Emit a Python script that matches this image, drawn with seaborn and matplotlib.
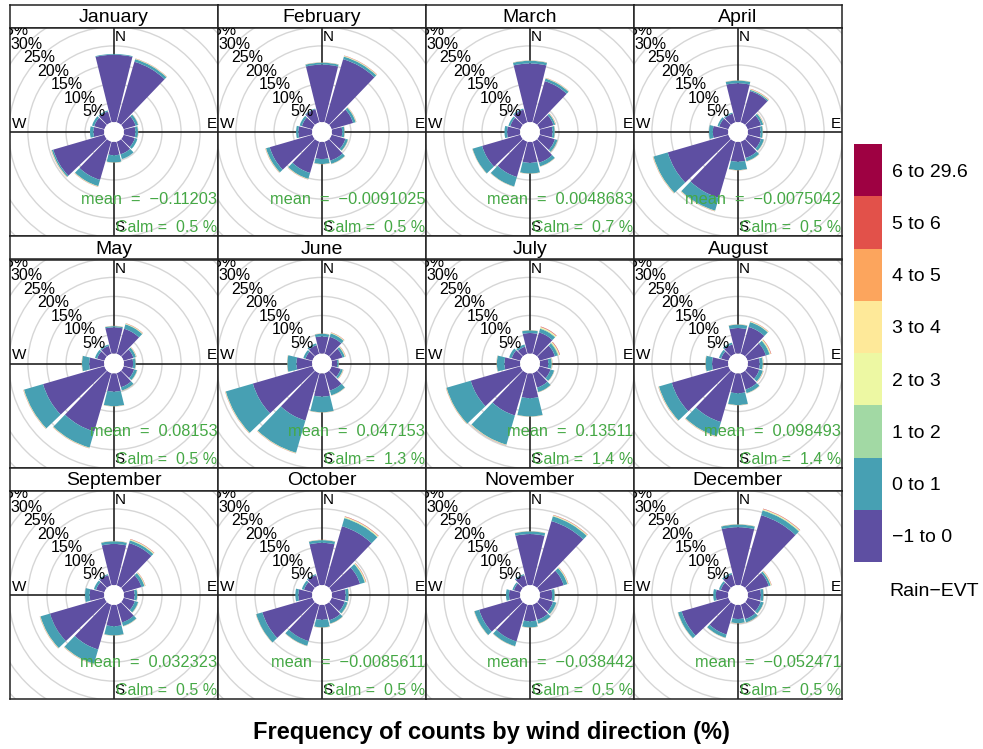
import numpy as np
import matplotlib
matplotlib.use("Agg")
import matplotlib.pyplot as plt
from matplotlib.patches import Wedge, Circle
import seaborn as sns

# wind rose by month, stacked by Rain-EVT bins (values = % of counts)
MONTHS = ["January", "February", "March", "April", "May", "June",
          "July", "August", "September", "October", "November", "December"]
DIRECTIONS = [0, 30, 60, 90, 120, 150, 180, 210, 240, 270, 300, 330]
BINS = ["\u22121 to 0", "0 to 1", "1 to 2", "2 to 3", "3 to 4", "4 to 5", "5 to 6", "6 to 29.6"]

NEG_PCT = [
    [17.7, 16.6, 3.3, 3.0, 3.1, 3.5, 3.5, 10.5, 14.0, 2.8, 2.8, 3.0],
    [15.1, 17.3, 5.9, 2.7, 3.8, 5.2, 4.5, 8.6, 11.7, 3.6, 2.9, 3.6],
    [15.4, 11.3, 3.8, 3.3, 4.2, 5.8, 5.5, 9.7, 10.5, 3.4, 2.8, 3.5],
    [10.2, 8.6, 3.7, 3.3, 3.7, 4.5, 5.2, 15.4, 16.6, 4.0, 2.5, 2.4],
    [6.9, 6.9, 2.7, 2.4, 2.9, 3.9, 4.8, 16.0, 16.8, 3.9, 2.0, 2.2],
    [4.5, 4.7, 3.0, 1.4, 2.5, 4.8, 6.1, 13.0, 16.3, 4.1, 1.9, 2.4],
    [5.4, 5.9, 4.2, 2.2, 3.0, 4.0, 6.5, 11.6, 13.6, 4.1, 2.4, 2.0],
    [6.7, 7.4, 5.0, 3.1, 3.2, 4.5, 5.2, 13.4, 15.5, 4.2, 2.0, 2.6],
    [10.8, 11.6, 4.9, 2.8, 3.1, 4.9, 5.6, 12.3, 14.9, 3.8, 2.3, 2.8],
    [11.1, 16.2, 7.8, 3.6, 3.6, 4.3, 3.9, 10.0, 13.7, 3.6, 2.3, 2.8],
    [13.4, 17.6, 6.6, 3.2, 3.7, 4.2, 4.3, 10.1, 11.3, 2.9, 1.8, 2.8],
    [15.2, 19.2, 5.8, 3.4, 3.6, 4.0, 3.7, 8.2, 12.8, 3.2, 2.1, 3.0],
]
POS_PCT = [
    [0.2, 0.7, 0.7, 0.7, 0.7, 1.3, 1.9, 1.7, 0.4, 0.9, 0.6, 0.3],
    [0.5, 0.7, 0.7, 0.6, 0.7, 0.9, 1.3, 1.6, 1.0, 0.6, 0.6, 0.2],
    [0.7, 0.7, 0.5, 0.6, 0.7, 1.0, 2.8, 2.6, 2.6, 0.7, 0.5, 0.3],
    [0.7, 0.3, 0.6, 0.6, 0.8, 0.9, 2.2, 3.5, 3.9, 1.0, 0.5, 0.3],
    [0.3, 1.2, 0.7, 0.7, 0.8, 0.9, 3.8, 4.4, 5.2, 1.9, 0.6, 0.4],
    [0.7, 0.9, 0.6, 0.4, 0.6, 1.3, 4.1, 8.8, 7.4, 2.4, 0.6, 0.5],
    [0.7, 1.0, 0.8, 0.9, 1.0, 1.2, 4.8, 8.0, 6.6, 2.0, 0.7, 0.6],
    [0.9, 1.3, 1.0, 0.8, 1.0, 1.0, 3.1, 3.9, 3.5, 1.7, 0.6, 0.5],
    [0.7, 0.7, 0.8, 0.7, 0.9, 1.0, 2.4, 3.9, 2.6, 1.2, 0.6, 0.3],
    [0.7, 2.2, 1.3, 0.8, 0.8, 0.9, 2.0, 1.3, 1.7, 0.8, 0.6, 0.3],
    [0.7, 1.3, 1.0, 0.7, 0.9, 1.0, 1.6, 1.3, 1.3, 0.8, 0.4, 0.3],
    [0.7, 1.3, 0.5, 0.7, 0.8, 0.9, 1.1, 0.9, 1.0, 0.7, 0.5, 0.4],
]
# everything above 1 (thin coloured rims), split over the upper bins
RIM_PCT = [
    [0.0, 0.2, 0.1, 0.1, 0.0, 0.0, 0.1, 0.2, 0.2, 0.0, 0.0, 0.0],
    [0.1, 0.3, 0.2, 0.1, 0.1, 0.1, 0.1, 0.2, 0.2, 0.0, 0.0, 0.0],
    [0.1, 0.2, 0.2, 0.1, 0.1, 0.1, 0.1, 0.1, 0.1, 0.0, 0.0, 0.0],
    [0.1, 0.3, 0.2, 0.1, 0.1, 0.1, 0.1, 0.2, 0.2, 0.0, 0.0, 0.0],
    [0.1, 0.3, 0.2, 0.1, 0.1, 0.1, 0.1, 0.2, 0.2, 0.1, 0.0, 0.0],
    [0.1, 0.3, 0.3, 0.1, 0.2, 0.1, 0.1, 0.2, 0.2, 0.1, 0.0, 0.0],
    [0.1, 0.6, 0.6, 0.2, 0.1, 0.1, 0.1, 0.2, 0.2, 0.1, 0.0, 0.0],
    [0.1, 0.3, 0.5, 0.2, 0.2, 0.1, 0.1, 0.2, 0.2, 0.1, 0.0, 0.0],
    [0.1, 0.4, 0.3, 0.1, 0.1, 0.1, 0.1, 0.2, 0.2, 0.0, 0.0, 0.0],
    [0.1, 0.5, 0.4, 0.1, 0.1, 0.1, 0.1, 0.1, 0.1, 0.0, 0.0, 0.0],
    [0.1, 0.4, 0.3, 0.1, 0.1, 0.1, 0.1, 0.1, 0.1, 0.0, 0.0, 0.0],
    [0.1, 0.5, 0.3, 0.1, 0.1, 0.1, 0.1, 0.1, 0.1, 0.0, 0.0, 0.0],
]
RIM_SHARE = [0.3, 0.25, 0.15, 0.12, 0.1, 0.08]

MEANS = ["\u22120.11203", "\u22120.0091025", "0.0048683", "\u22120.0075042",
         "0.08153", "0.047153", "0.13511", "0.098493",
         "0.032323", "\u22120.0085611", "\u22120.038442", "\u22120.052471"]
CALMS = [0.5, 0.5, 0.7, 0.5, 0.5, 1.3, 1.4, 1.4, 0.5, 0.5, 0.5, 0.5]
RINGS = [5, 10, 15, 20, 25, 30, 35]

SPECTRAL = ["#9E0142", "#D53E4F", "#F46D43", "#FDAE61", "#FEE08B", "#FFFFBF",
            "#E6F598", "#ABDDA4", "#66C2A5", "#3288BD", "#5E4FA2"]

sns.set_theme(style="white")
plt.rcParams["font.family"] = ["Liberation Sans", "DejaVu Sans"]
plt.rcParams["text.color"] = "black"
plt.rcParams["ytick.color"] = "black"

colors = sns.blend_palette(SPECTRAL[::-1], n_colors=len(BINS))
GREEN = "#45a845"

OFF = 2.6      # centre hole (in % units)
LIM = 27.3     # half width of each panel
GAP = 1.2      # degrees trimmed from each side of a wedge

W, H = 983, 749
fig = plt.figure(figsize=(W / 100, H / 100), dpi=100)


def px_axes(x0, y0, w, h):
    return fig.add_axes([x0 / W, 1 - (y0 + h) / H, w / W, h / H])


def frame(ax):
    ax.set_xticks([])
    ax.set_yticks([])
    for s in ax.spines.values():
        s.set_visible(True)
        s.set_color("#222222")
        s.set_linewidth(1.1)


for i, month in enumerate(MONTHS):
    row, col = divmod(i, 4)
    x0 = 10 + col * 208
    y0 = 5 + row * 231.5

    strip = px_axes(x0, y0, 208, 23)
    frame(strip)
    strip.text(0.5, 0.45, month, ha="center", va="center", fontsize=14,
               transform=strip.transAxes)

    ax = px_axes(x0, y0 + 23, 208, 208)
    frame(ax)
    ax.set_xlim(-LIM, LIM)
    ax.set_ylim(-LIM, LIM)

    for r in RINGS:
        ax.add_patch(Circle((0, 0), OFF + r, fill=False, ec="#d6d6d6", lw=1, zorder=1))
    ax.axhline(0, color="#222222", lw=1.2, zorder=2)
    ax.axvline(0, color="#222222", lw=1.2, zorder=2)

    stacks = [NEG_PCT[i], POS_PCT[i]] + [[v * s for v in RIM_PCT[i]] for s in RIM_SHARE]
    for k, d in enumerate(DIRECTIONS):
        base = OFF
        for b, vals in enumerate(stacks):
            v = vals[k]
            if v <= 0:
                continue
            ax.add_patch(Wedge((0, 0), base + v, 90 - d - 15 + GAP, 90 - d + 15 - GAP,
                               width=v, fc=colors[b], ec="none", zorder=3))
            base += v
    ax.add_patch(Circle((0, 0), OFF, fc="white", ec="none", zorder=4))

    for r in RINGS:
        rr = (OFF + r) * np.sqrt(0.5)
        ax.text(-rr, rr, f"{r}%", ha="center", va="center", fontsize=11.5,
                clip_on=True, zorder=5)

    ax.text(0.2, LIM - 0.6, "N", ha="left", va="top", fontsize=11, zorder=5)
    ax.text(LIM - 0.3, 0.3, "E", ha="right", va="bottom", fontsize=11, zorder=5)
    ax.text(0.2, -LIM + 0.5, "S", ha="left", va="bottom", fontsize=11, zorder=5)
    ax.text(-LIM + 0.4, 0.3, "W", ha="left", va="bottom", fontsize=11, zorder=5)

    ax.text(LIM - 0.2, -17.8, f"mean  =  {MEANS[i]}", ha="right", va="center",
            fontsize=11.8, color=GREEN, zorder=6)
    ax.text(LIM - 0.2, -25.1, f"Calm =  {CALMS[i]} %", ha="right", va="center",
            fontsize=11.5, color=GREEN, zorder=6)

# legend
leg = px_axes(854, 144, 28, 418)
leg.bar([0] * len(BINS), [1] * len(BINS), bottom=np.arange(len(BINS)),
        color=colors, width=1, edgecolor="none")
leg.set_xlim(-0.5, 0.5)
leg.set_ylim(0, len(BINS))
leg.set_xticks([])
leg.yaxis.tick_right()
leg.set_yticks(np.arange(len(BINS)) + 0.5)
leg.set_yticklabels(BINS, fontsize=14)
leg.tick_params(axis="y", length=0, pad=7)
for s in leg.spines.values():
    s.set_visible(False)
fig.text(889 / W, 1 - 592 / H, "Rain\u2212EVT", ha="left", va="center", fontsize=14)

fig.text(0.5, 1 - 733 / H, "Frequency of counts by wind direction (%)",
         ha="center", va="center", fontsize=17, fontweight="bold")

fig.savefig("out.png", dpi=100)
